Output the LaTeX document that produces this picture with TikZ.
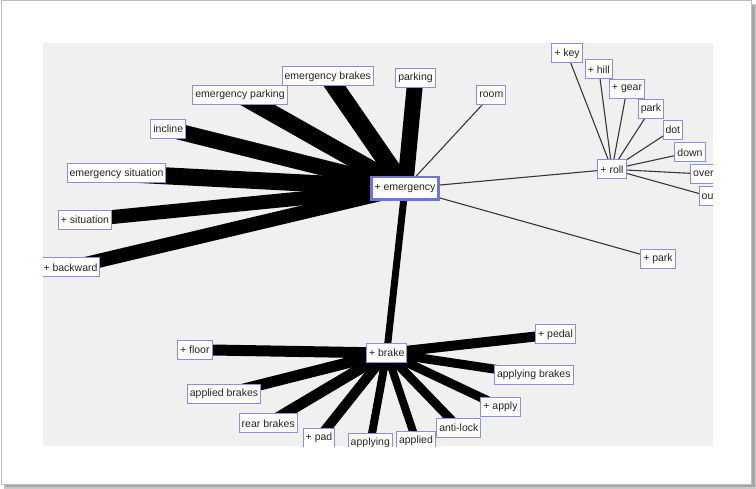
\documentclass[tikz,border=0pt]{standalone}
\usepackage{fontspec}
\setmainfont{Liberation Sans}
\pgfdeclarelayer{bg}
\pgfdeclarelayer{edges}
\pgfsetlayers{bg,edges,main}
\definecolor{nodeborder}{RGB}{140,140,235}
\definecolor{emborder}{RGB}{115,115,222}
\definecolor{panelgray}{RGB}{240,240,240}
\definecolor{thinedge}{RGB}{55,55,55}
\definecolor{frameline}{RGB}{190,190,190}
\definecolor{shadowgray}{RGB}{165,165,165}
\definecolor{labeltext}{RGB}{35,35,35}
\begin{document}
\begin{tikzpicture}[x=1pt,y=-1pt,
 term/.style={draw=nodeborder, line width=1pt, fill=white, inner xsep=2.5pt, inner ysep=0pt,
   minimum height=19pt, font=\fontsize{10.5}{12}\selectfont, text=labeltext, anchor=center},
 hub/.style={term, draw=emborder, line width=2.5pt, minimum height=22.5pt, inner xsep=3pt},
 heavy/.style={line width=#1, line cap=butt, black},
 slim/.style={line width=1.1pt, thinedge}]
\useasboundingbox (0,0) rectangle (756,489);
\begin{pgfonlayer}{bg}
 \fill[shadowgray!60] (4,4) rectangle (756,489);
 \fill[shadowgray] (5,5) rectangle (754.5,487);
 \filldraw[fill=white, draw=frameline, line width=1pt] (1,1) rectangle (751,484);
 \fill[panelgray] (43,43) rectangle (713,446);
\end{pgfonlayer}

\begin{scope}
\clip (43,43) rectangle (713,446);
% emergency cluster
\node[hub]  (em)  at (405,188.2) {+ emergency};
\node[term] (ep)  at (240,95)    {emergency parking};
\node[term] (inc) at (168.3,129) {incline};
\node[term] (es)  at (116.5,173.3) {emergency situation};
\node[term] (sit) at (85,219.7)  {+ situation};
\node[term] (bw)  at (70.5,267.5) {+ backward};
\node[term] (eb)  at (327.8,76.3) {emergency brakes};
\node[term] (pk)  at (415.5,77.7) {parking};
\node[term] (rm)  at (491.3,95)  {room};
\node[term] (ppark) at (658,259.2) {+ park};
% roll cluster
\node[term] (roll) at (612,169.3) {+ roll};
\node[term] (key)  at (567,53.3)  {+ key};
\node[term] (hill) at (598.8,69.2) {+ hill};
\node[term] (gear) at (627,89)    {+ gear};
\node[term] (rpark) at (651,108.7) {park};
\node[term] (dot)  at (672.8,129.7) {dot};
\node[term] (down) at (690,152.3) {down};
\node[term] (over) at (703.4,174) {over};
\node[term] (out)  at (709,196.3) {out};
% brake cluster
\node[term] (br)   at (386.7,353) {+ brake};
\node[term] (fl)   at (194.8,349.7) {+ floor};
\node[term] (apb)  at (224,394)   {applied brakes};
\node[term] (rb)   at (268.3,423.3) {rear brakes};
\node[term] (pad)  at (319,438)   {+ pad};
\node[term] (apg)  at (370.3,443) {applying};
\node[term] (apd)  at (416,440.5) {applied};
\node[term] (al)   at (458.8,427.7) {anti-lock};
\node[term] (apl)  at (500.5,406.7) {+ apply};
\node[term] (apgb) at (533.8,375) {applying brakes};
\node[term] (ped)  at (555.5,334.3) {+ pedal};
\end{scope}

\begin{pgfonlayer}{edges}
\clip (43,43) rectangle (713,446);
\draw[heavy=17pt] (em.center) -- (ep.center);
\draw[heavy=16pt] (em.center) -- (inc.center);
\draw[heavy=17pt] (em.center) -- (es.center);
\draw[heavy=14pt] (em.center) -- (sit.center);
\draw[heavy=14pt] (em.center) -- (bw.center);
\draw[heavy=18pt] (em.center) -- (eb.center);
\draw[heavy=16pt] (em.center) -- (pk.center);
\draw[heavy=7pt]  (em.center) -- (br.center);
\draw[slim] (em.center) -- (rm.center);
\draw[slim] (em.center) -- (roll.center);
\draw[slim] (em.center) -- (ppark.center);
\foreach \t in {key,hill,gear,rpark,dot,down,over,out}
  \draw[slim] (roll.center) -- (\t.center);
\draw[heavy=11pt] (br.center) -- (fl.center);
\draw[heavy=11pt] (br.center) -- (apb.center);
\draw[heavy=11pt] (br.center) -- (rb.center);
\draw[heavy=10pt] (br.center) -- (pad.center);
\draw[heavy=8pt]  (br.center) -- (apg.center);
\draw[heavy=8pt]  (br.center) -- (apd.center);
\draw[heavy=9pt]  (br.center) -- (al.center);
\draw[heavy=9pt]  (br.center) -- (apl.center);
\draw[heavy=9pt]  (br.center) -- (apgb.center);
\draw[heavy=10pt] (br.center) -- (ped.center);
\end{pgfonlayer}
\end{tikzpicture}
\end{document}
